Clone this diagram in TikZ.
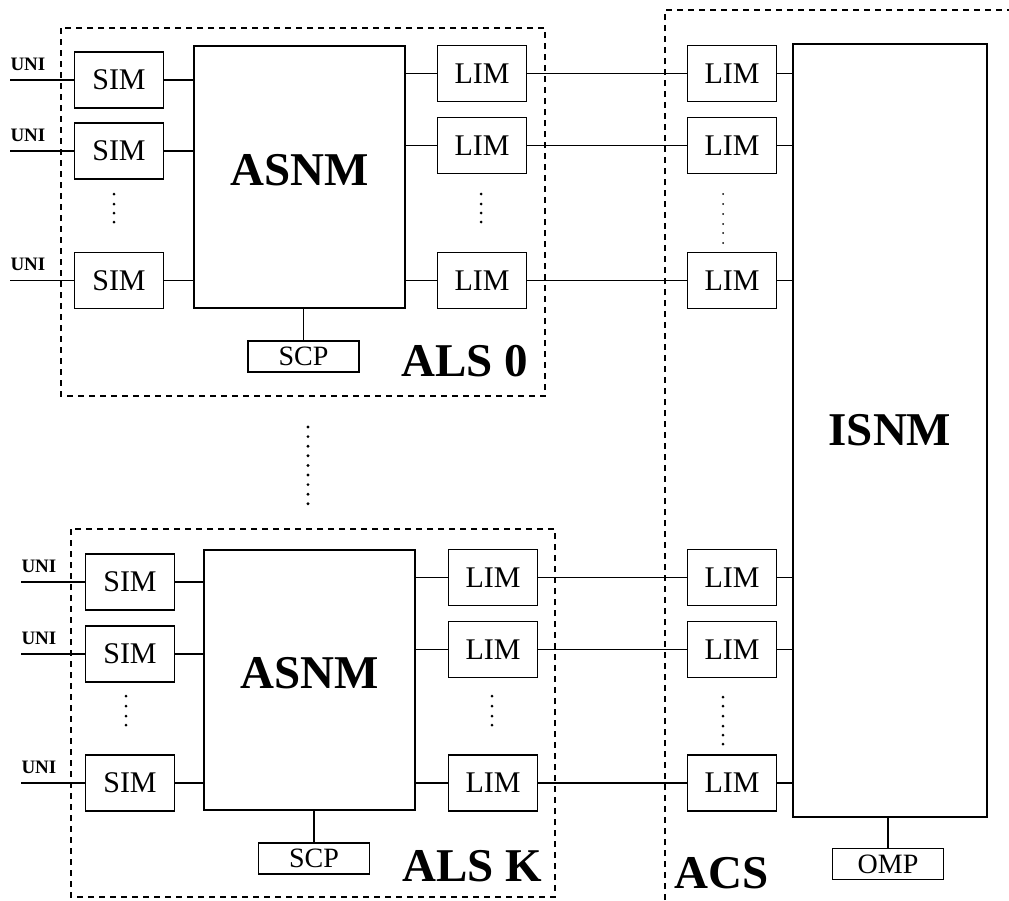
\documentclass[tikz,border=0pt]{standalone}
\usepackage{fontspec}
\setmainfont{Liberation Serif}
\newcommand{\fsz}[1]{\fontsize{#1}{#1}\selectfont}

\begin{document}
\begin{tikzpicture}[x=1pt,y=-1pt,line width=1.5pt,
  box/.style={draw,inner sep=0pt,font=\fsz{30}},
  mod/.style={box,minimum width=89pt,minimum height=56pt},
  big/.style={box,font=\fsz{47}\bfseries},
  ctl/.style={box,font=\fsz{28},minimum width=111pt,minimum height=31pt},
  grp/.style={dash pattern=on 6pt off 5pt,line width=1.2pt},
  uni/.style={font=\fsz{19}\bfseries,inner sep=0pt},
  tag/.style={font=\fsz{47}\bfseries,inner sep=0pt}]
  \useasboundingbox (0,0) rectangle (1009,900);
  \draw[grp] (61,28) rectangle (545,396);
  \draw[grp] (71,529) rectangle (555,897);
  \draw[grp] (665,900) |- (1009,10);
  % ALS 0
  \node[mod] (s01) at (119,80) {SIM}; \node[mod] (s02) at (119,151) {SIM}; \node[mod] (s03) at (119,280.5) {SIM};
  \node[box,minimum width=211pt,minimum height=262pt] (asnm0) at (299.5,177) {};
  \node[tag] at ([yshift=7pt]asnm0.center) {ASNM};
  \node[mod] (l01) at (482,73.5) {LIM}; \node[mod] (l02) at (482,145.5) {LIM}; \node[mod] (l03) at (482,280.5) {LIM};
  \node[ctl] (scp0) at (303.5,356.5) {SCP};
  \node[tag] at (465,361) {ALS 0};
  % ALS K
  \node[mod] (sk1) at (130,582) {SIM}; \node[mod] (sk2) at (130,654) {SIM}; \node[mod] (sk3) at (130,783) {SIM};
  \node[box,minimum width=211pt,minimum height=260pt] (asnmk) at (309.5,680) {};
  \node[tag] at ([yshift=7pt]asnmk.center) {ASNM};
  \node[mod] (lk1) at (493,577.5) {LIM}; \node[mod] (lk2) at (493,649.5) {LIM}; \node[mod] (lk3) at (493,783) {LIM};
  \node[ctl] (scpk) at (314,858.5) {SCP};
  \node[tag] at (472,866) {ALS K};
  % ACS
  \node[mod] (a01) at (732,73.5) {LIM}; \node[mod] (a02) at (732,145.5) {LIM}; \node[mod] (a03) at (732,280.5) {LIM};
  \node[mod] (ak1) at (732,577.5) {LIM}; \node[mod] (ak2) at (732,649.5) {LIM}; \node[mod] (ak3) at (732,783) {LIM};
  \node[big,minimum width=194pt,minimum height=773pt] (isnm) at (890,430.5) {ISNM};
  \node[ctl] (omp) at (888,864) {OMP};
  \node[tag] at (722,873) {ACS};
  \foreach \k in {0,k} {
    \foreach \i in {1,2,3} {
      \draw (s\k\i.east) -- (s\k\i.east -| asnm\k.west);
      \draw (l\k\i.west) -- (l\k\i.west -| asnm\k.east);
      \draw (l\k\i.east) -- (a\k\i.west);
      \draw (a\k\i.east) -- (a\k\i.east -| isnm.west);
      \draw (s\k\i.west) -- ++(-64,0) coordinate (u\k\i);
      \node[uni,anchor=base west] at ([yshift=10pt]u\k\i) {UNI};
    }
    \draw (scp\k.north) -- (scp\k.north |- asnm\k.south);
  }
  \draw (omp.north) -- (omp.north |- isnm.south);
  \foreach \y in {194,204,213,222} {\fill (114,\y) circle (1.5pt); \fill (481,\y) circle (1.5pt);}
  \foreach \y in {696,706,716,725} {\fill (126,\y) circle (1.5pt); \fill (492,\y) circle (1.5pt);}
  \foreach \y in {194,204,214,224,233,243} \fill (723,\y) circle (1pt);
  \foreach \y in {697,706,716,726,735,744} \fill (723,\y) circle (1.5pt);
  \foreach \y in {427,436.6,...,505} \fill (308,\y) circle (1.6pt);
\end{tikzpicture}
\end{document}
